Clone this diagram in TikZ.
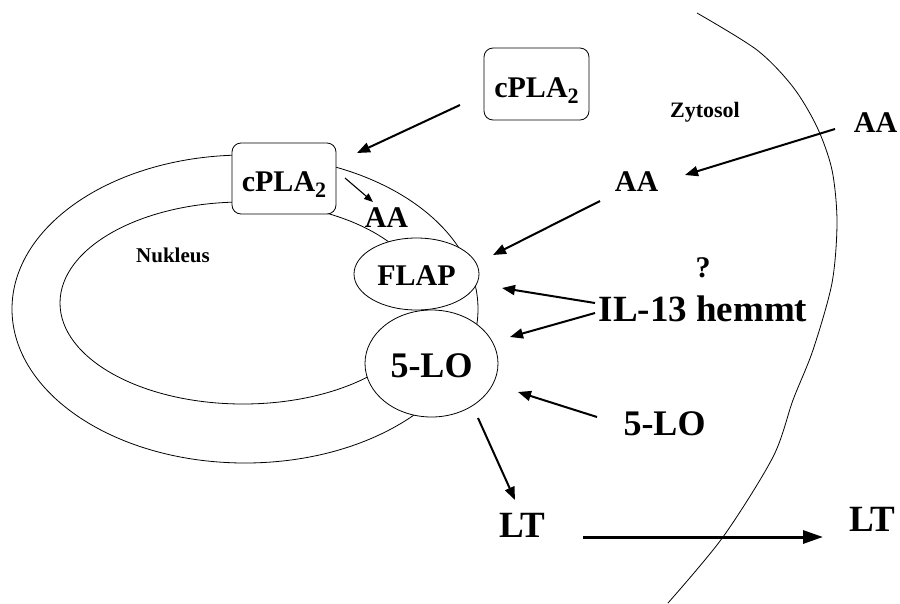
\documentclass[tikz,border=0pt]{standalone}
\usepackage{fontspec}
\setmainfont{Liberation Serif}
\usetikzlibrary{arrows.meta,shapes.geometric}
\newcommand{\fsz}[1]{\fontsize{#1}{#1}\selectfont}
\begin{document}
\begin{tikzpicture}[x=1pt,y=-1pt,
  membrane/.style={line width=0.8pt},
  box/.style={draw, line width=0.8pt, rounded corners=9pt, fill=white, inner sep=0pt,
    minimum width=105pt, minimum height=72pt, font=\bfseries\fsz{30},
    text height=26pt, text depth=0pt},
  oval/.style={draw, ellipse, line width=0.8pt, fill=white, inner sep=0pt},
  lbl/.style={inner sep=0pt, anchor=base, font=\bfseries},
  arr/.style={line width=2pt, -{Triangle[length=13pt,width=10pt]}},
  smallarr/.style={line width=1.1pt, -{Triangle[length=9pt,width=7pt]}},
  bigarr/.style={line width=3pt, -{Triangle[length=20pt,width=13pt]}}
]
\fill[white] (0,0) rectangle (900,603);
\useasboundingbox (0,0) rectangle (900,603);

% cell membrane
\draw[membrane] plot[smooth] coordinates {(697,13) (757,50) (793,87) (817,127) (832,170) (837,222) (832,283) (813,350) (793,400) (773,457) (723,537) (668,603)};

% nuclear envelope
\draw[membrane] (245,309) ellipse [x radius=233, y radius=154];
\draw[membrane] (243,303) ellipse [x radius=183, y radius=101];

% boxes and ovals
\node[box] (cplaTop) at (536.5,84) {cPLA\raisebox{-6pt}{\fsz{22}2}};
\node[box, minimum width=104pt, minimum height=71pt] (cplaIn) at (284,178.5) {cPLA\raisebox{-6pt}{\fsz{22}2}};
\node[oval, minimum width=125pt, minimum height=72pt, font=\bfseries\fsz{30}, text height=22pt, text depth=0pt] (flap) at (416.5,274) {FLAP};
\node[oval, minimum width=133pt, minimum height=107pt, font=\bfseries\fsz{36}, text height=27pt, text depth=0pt] (lo) at (431.5,363.5) {5-LO};

% labels
\node[lbl, font=\bfseries\fsz{21}] (nukleus) at (173,262) {Nukleus};
\node[lbl, font=\bfseries\fsz{22}] (zytosol) at (705,117) {Zytosol};
\node[lbl, font=\bfseries\fsz{30}] (aaRight) at (875.5,132) {AA};
\node[lbl, font=\bfseries\fsz{30}] (aaMid) at (636.5,191) {AA};
\node[lbl, font=\bfseries\fsz{30}] (aaSmall) at (386.5,227) {AA};
\node[lbl, font=\bfseries\fsz{30}] (question) at (703,277) {?};
\node[lbl, font=\bfseries\fsz{37}] (il13) at (703,321) {IL-13 hemmt};
\node[lbl, font=\bfseries\fsz{36}] (loRight) at (664.5,435) {5-LO};
\node[lbl, font=\bfseries\fsz{37}] (ltLeft) at (522.5,537) {LT};
\node[lbl, font=\bfseries\fsz{37}] (ltRight) at (872.5,531) {LT};

% arrow end points
\coordinate (cplaTopOut) at (460,105);
\coordinate (cplaInIn) at (357,153);
\coordinate (cplaInOut) at (345,178);
\coordinate (aaSmallIn) at (373,202);
\coordinate (aaRightOut) at (835,129);
\coordinate (aaMidIn) at (685,175);
\coordinate (aaMidOut) at (600,201);
\coordinate (flapIn1) at (493,255);
\coordinate (il13Out1) at (595,303);
\coordinate (flapIn2) at (502,288);
\coordinate (il13Out2) at (595,313);
\coordinate (loIn1) at (510,337);
\coordinate (loRightOut) at (597,417);
\coordinate (loIn2) at (518,392);
\coordinate (loOut) at (478,418);
\coordinate (ltLeftIn) at (515,500);
\coordinate (ltLeftOut) at (583,537);
\coordinate (ltRightIn) at (823,537);

% arrows
\draw[arr] (cplaTopOut) -- (cplaInIn);
\draw[smallarr] (cplaInOut) -- (aaSmallIn);
\draw[arr] (aaRightOut) -- (aaMidIn);
\draw[arr] (aaMidOut) -- (flapIn1);
\draw[arr] (il13Out1) -- (flapIn2);
\draw[arr] (il13Out2) -- (loIn1);
\draw[arr] (loRightOut) -- (loIn2);
\draw[arr] (loOut) -- (ltLeftIn);
\draw[bigarr] (ltLeftOut) -- (ltRightIn);
\end{tikzpicture}
\end{document}
